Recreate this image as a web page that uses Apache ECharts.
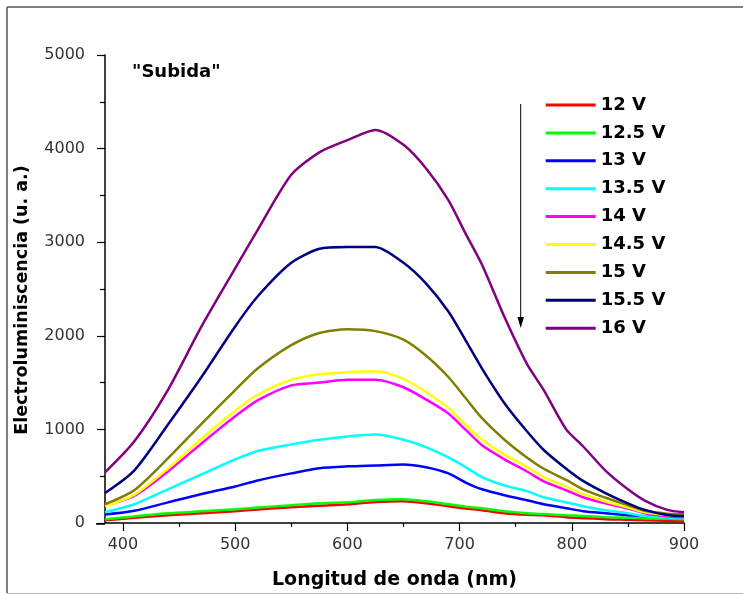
<!DOCTYPE html>
<html>
<head>
<meta charset="utf-8">
<script src="https://cdn.jsdelivr.net/npm/echarts@6/dist/echarts.min.js"></script>
<style>
  html, body { margin: 0; padding: 0; background: #fff; }
  #chart { width: 743px; height: 595px; }
</style>
</head>
<body>
<div id="chart"></div>
<script>
// Wavelength grid (nm) shared by every spectrum
const wavelengths = [384, 410, 440, 470, 500, 520, 550, 575, 600, 625, 650, 670, 690, 705, 720, 740, 760, 775, 795, 810, 830, 850, 865, 885, 900];

// Electroluminescence intensity (a.u.) for each applied voltage
const v12   = [30, 55, 83, 105, 126, 145, 168, 185, 200, 225, 232, 211, 179, 155, 136, 104, 88, 83, 62, 52, 40, 35, 30, 25, 19];
const v12_5 = [40, 70, 104, 125, 147, 165, 190, 210, 222, 245, 254, 232, 200, 175, 158, 126, 104, 95, 83, 75, 62, 55, 51, 45, 40];
const v13   = [90, 130, 220, 310, 390, 455, 530, 585, 605, 615, 625, 595, 530, 435, 360, 296, 243, 200, 158, 126, 104, 83, 72, 65, 62];
const v13_5 = [115, 200, 360, 520, 680, 770, 840, 890, 925, 945, 890, 810, 700, 600, 490, 400, 340, 275, 220, 180, 136, 104, 72, 58, 51];
const v14   = [190, 290, 550, 850, 1140, 1310, 1470, 1500, 1530, 1530, 1450, 1320, 1170, 1000, 830, 680, 550, 445, 350, 275, 210, 155, 105, 72, 62];
const v14_5 = [180, 300, 580, 900, 1200, 1370, 1530, 1590, 1610, 1620, 1540, 1400, 1230, 1050, 890, 730, 600, 490, 390, 310, 230, 165, 115, 85, 72];
const v15   = [200, 350, 690, 1060, 1420, 1650, 1900, 2030, 2070, 2050, 1960, 1790, 1560, 1340, 1120, 890, 700, 580, 460, 360, 270, 190, 130, 100, 94];
const v15_5 = [320, 560, 1050, 1560, 2100, 2420, 2780, 2930, 2950, 2950, 2780, 2560, 2260, 1960, 1650, 1280, 980, 780, 580, 450, 320, 210, 140, 85, 72];
const v16   = [541, 870, 1420, 2100, 2720, 3130, 3720, 3960, 4090, 4200, 4040, 3790, 3450, 3100, 2760, 2200, 1700, 1420, 1000, 820, 560, 360, 240, 140, 115];

const seriesNames = ['12 V', '12.5 V', '13 V', '13.5 V', '14 V', '14.5 V', '15 V', '15.5 V', '16 V'];
const seriesValues = [v12, v12_5, v13, v13_5, v14, v14_5, v15, v15_5, v16];
const seriesColors = ['#ff0000', '#00ff00', '#0000ff', '#00ffff', '#ff00ff', '#ffff00', '#808000', '#000080', '#800080'];

// Axis ticks
const xMajorTicks = [400, 500, 600, 700, 800, 900];
const xMinorTicks = [450, 550, 650, 750, 850];
const xRange = [384, 900];
const yRange = [0, 5000];

const tickFont = { fontFamily: 'DejaVu Sans', fontSize: 16, color: '#333' };

const chart = echarts.init(document.getElementById('chart'), null, { renderer: 'canvas' });

const series = seriesNames.map((name, i) => ({
  name: name,
  type: 'line',
  showSymbol: false,
  smooth: 0.25,
  color: seriesColors[i],
  lineStyle: { width: 2.5, color: seriesColors[i] },
  data: wavelengths.map((w, j) => [w, seriesValues[i][j]]),
  z: 2 + i
}));

chart.setOption({
  animation: false,
  backgroundColor: '#fff',
  grid: { left: 105, top: 55, width: 579, height: 469, containLabel: false },
  xAxis: [
    {
      type: 'value',
      min: xRange[0],
      max: xRange[1],
      name: 'Longitud de onda (nm)',
      nameLocation: 'middle',
      nameGap: 48,
      nameTextStyle: { fontFamily: 'DejaVu Sans', fontWeight: 'bold', fontSize: 19, color: '#000' },
      axisLine: { onZero: false, lineStyle: { color: '#000', width: 1.5 } },
      axisTick: { customValues: xMajorTicks, length: 8, lineStyle: { color: '#000', width: 1.2 } },
      axisLabel: Object.assign({ customValues: xMajorTicks, margin: 14 }, tickFont),
      splitLine: { show: false }
    },
    {
      type: 'value',
      min: xRange[0],
      max: xRange[1],
      position: 'bottom',
      axisLine: { show: false },
      axisTick: { customValues: xMinorTicks, length: 4, lineStyle: { color: '#000', width: 1.2 } },
      axisLabel: { show: false },
      splitLine: { show: false }
    }
  ],
  yAxis: {
    type: 'value',
    min: yRange[0],
    max: yRange[1],
    interval: 1000,
    axisLine: { show: true, lineStyle: { color: '#000', width: 1.5 } },
    axisTick: { show: true, length: 8, lineStyle: { color: '#000', width: 1.2 } },
    minorTick: { show: true, splitNumber: 2, length: 5, lineStyle: { color: '#000', width: 1.2 } },
    axisLabel: Object.assign({ margin: 20, formatter: (v) => String(v) }, tickFont),
    splitLine: { show: false }
  },
  legend: {
    orient: 'vertical',
    left: 545.7,
    top: 95,
    padding: 0,
    icon: 'rect',
    itemWidth: 50,
    itemHeight: 3,
    itemGap: 7.9,
    textStyle: { fontFamily: 'DejaVu Sans', fontWeight: 'bold', fontSize: 18, color: '#000', lineHeight: 20 },
    data: seriesNames
  },
  graphic: [
    // outer frame
    { type: 'line', shape: { x1: 7, y1: 7, x2: 743, y2: 7 }, style: { stroke: '#555', lineWidth: 1.5 } },
    { type: 'line', shape: { x1: 7, y1: 7, x2: 7, y2: 593 }, style: { stroke: '#555', lineWidth: 1.5 } },
    { type: 'line', shape: { x1: 7, y1: 593.5, x2: 743, y2: 593.5 }, style: { stroke: '#bbb', lineWidth: 1 } },
    // x axis line runs a little past the y axis
    { type: 'line', shape: { x1: 96, y1: 524, x2: 105, y2: 524 }, style: { stroke: '#000', lineWidth: 1.5 } },
    // y axis title
    {
      type: 'text', x: 22, y: 300, rotation: Math.PI / 2,
      style: {
        text: 'Electroluminiscencia (u. a.)', fontFamily: 'DejaVu Sans', fontWeight: 'bold',
        fontSize: 17.5, fill: '#000', align: 'center', verticalAlign: 'middle'
      }
    },
    // label inside the plot
    {
      type: 'text', left: 132, top: 63,
      style: { text: '"Subida"', fontFamily: 'DejaVu Sans', fontWeight: 'bold', fontSize: 18, fill: '#000' }
    },
    // arrow showing increasing voltage
    { type: 'line', shape: { x1: 520.7, y1: 104, x2: 520.7, y2: 320 }, style: { stroke: '#000', lineWidth: 1 } },
    { type: 'polygon', shape: { points: [[517.5, 317], [524, 317], [520.7, 328]] }, style: { fill: '#000' } }
  ],
  series: series
});
</script>
</body>
</html>
